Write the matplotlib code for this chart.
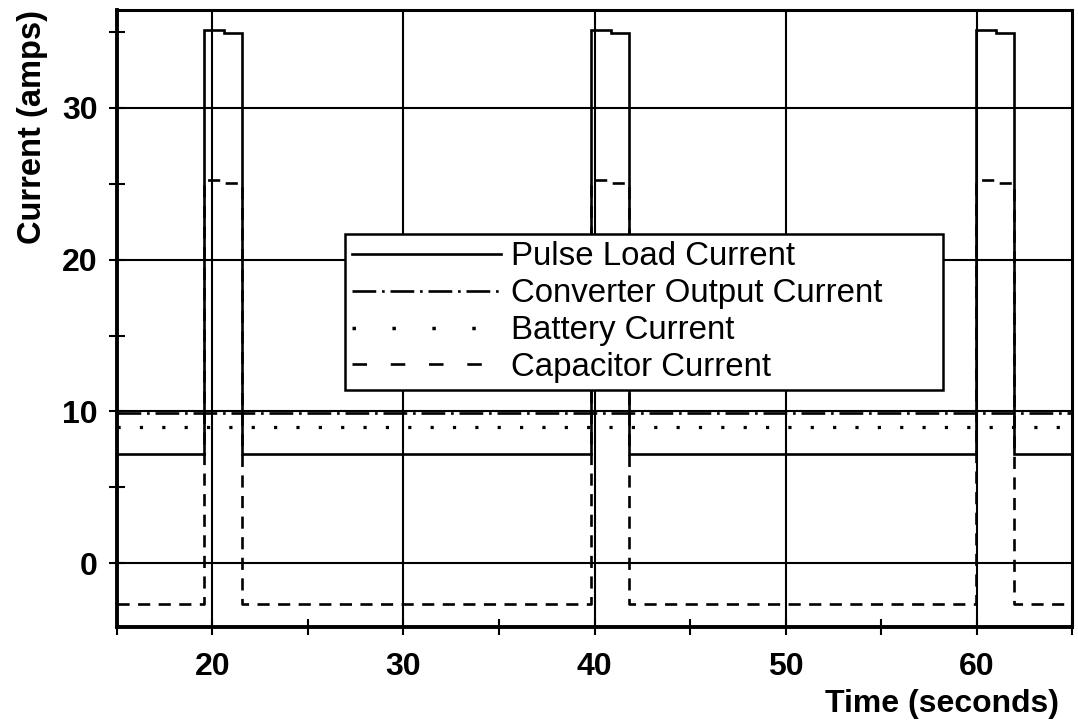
import numpy as np
import matplotlib
matplotlib.use("Agg")
import matplotlib.pyplot as plt
from matplotlib.lines import Line2D
from matplotlib.ticker import MultipleLocator

plt.rcParams['font.family'] = ['Liberation Sans', 'DejaVu Sans']

# Pulse timing (seconds)
pulse_start = [19.58, 39.84, 59.95]
pulse_sag = [20.6, 40.85, 61.0]
pulse_end = [21.57, 41.78, 61.94]

# Current levels (amps)
load_base = 7.2
load_peak = [35.15, 34.95]      # before / after the sag
cap_base = -2.7
cap_peak = [25.25, 25.05]
converter_level = 9.9
battery_level = 8.95

t_min, t_max = 15.0, 65.0


def pulse_train(base, peaks):
    t = [t_min]
    y = [base]
    for s, m, e in zip(pulse_start, pulse_sag, pulse_end):
        t += [s, s, m, m, e, e]
        y += [base, peaks[0], peaks[0], peaks[1], peaks[1], base]
    t.append(t_max)
    y.append(base)
    return np.array(t), np.array(y)


t_load, i_load = pulse_train(load_base, load_peak)
t_cap, i_cap = pulse_train(cap_base, cap_peak)

fig = plt.figure(figsize=(10.78, 7.23), dpi=100)
ax = fig.add_axes([0.1085, 0.1328, 0.886, 0.8535])

ax.set_xlim(t_min, t_max)
ax.set_ylim(-4.2, 36.45)

ax.xaxis.set_major_locator(MultipleLocator(10))
ax.xaxis.set_minor_locator(MultipleLocator(5))
ax.yaxis.set_major_locator(MultipleLocator(10))
ax.yaxis.set_minor_locator(MultipleLocator(5))

ax.grid(True, which='major', color='black', linewidth=1.5)
ax.set_axisbelow(True)

lw = 1.9
dashdot = (0, (9, 2.2, 1, 2.2))
ax.plot(t_load, i_load, color='black', lw=lw, solid_joinstyle='miter')
ax.plot([t_min, t_max], [converter_level] * 2, color='black', lw=lw,
        linestyle=dashdot)
ax.plot([t_min, t_max], [battery_level] * 2, color='black', lw=lw + 0.4,
        linestyle=(0, (1, 6)))
ax.plot(t_cap, i_cap, color='black', lw=lw, linestyle=(0, (4.6, 3.2)))

for side in ['left', 'bottom']:
    ax.spines[side].set_linewidth(2.8)
for side in ['top', 'right']:
    ax.spines[side].set_linewidth(2.2)

ax.tick_params(axis='both', which='major', direction='inout', length=12,
               width=1.5, labelsize=23)
ax.tick_params(axis='both', which='minor', direction='inout', length=12,
               width=1.5)
ax.tick_params(axis='y', which='major', pad=8)
ax.tick_params(axis='x', which='major', pad=12)
for lab in ax.get_xticklabels() + ax.get_yticklabels():
    lab.set_fontweight('bold')

ax.set_ylabel('Current (amps)', fontsize=23.5, fontweight='bold')
ax.yaxis.set_label_coords(-0.072, 0.81)
ax.set_xlabel('Time (seconds)', fontsize=23, fontweight='bold')
ax.xaxis.set_label_coords(0.986, -0.1, transform=ax.transAxes)
ax.xaxis.label.set_horizontalalignment('right')

handles = [
    Line2D([], [], color='black', lw=lw),
    Line2D([], [], color='black', lw=lw, linestyle=dashdot),
    Line2D([], [], color='black', lw=lw + 0.6, linestyle=(0, (1, 10.5))),
    Line2D([], [], color='black', lw=lw, linestyle=(0, (5.5, 9))),
]
labels = ['Pulse Load Current', 'Converter Output Current',
          'Battery Current', 'Capacitor Current']
leg = ax.legend(handles, labels, loc='upper left', mode='expand',
                bbox_to_anchor=(0.2387, 0.386, 0.6262, 0.251),
                borderaxespad=0, fontsize=23.8, handlelength=4.5,
                handletextpad=0.3, labelspacing=0.18, borderpad=0.22,
                fancybox=False, framealpha=1, edgecolor='black')
leg.get_frame().set_linewidth(1.8)
leg.set_zorder(5)

fig.savefig('out.png', dpi=100, facecolor='white')
